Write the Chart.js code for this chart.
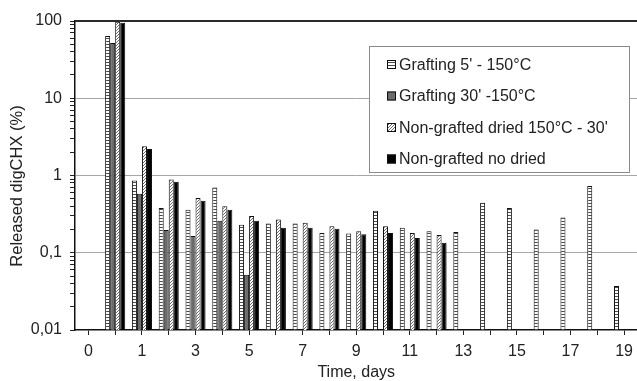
<!DOCTYPE html>
<html>
<head>
<meta charset="utf-8">
<script src="https://cdn.jsdelivr.net/npm/chart.js@4.4.0/dist/chart.umd.min.js"></script>
<style>
  html, body { margin: 0; padding: 0; background: #fff; overflow: hidden; }
  canvas { display: block; }
</style>
</head>
<body>
<canvas id="chart" width="640" height="381"></canvas>
<script>
/* ── data ─────────────────────────────────────── */

const X_LABELS = ['0', '0,5', '1', '2', '3', '4', '5', '6', '7', '8', '9', '10',
                  '11', '12', '13', '14', '15', '16', '17', '18', '19'];

const SERIES_NAMES = [
  "Grafting 5' - 150°C",
  "Grafting 30' -150°C",
  "Non-grafted dried 150°C - 30'",
  'Non-grafted no dried'
];

const GRAFT_5 = [null, 64, 0.86, 0.38, 0.36, 0.70, 0.23, 0.24, 0.24, 0.18, 0.177,
                 0.35, 0.21, 0.19, 0.185, 0.445, 0.38, 0.20, 0.285, 0.73, 0.037];
const GRAFT_30 = [null, 52, 0.58, 0.197, 0.165, 0.26, 0.052, null, null, null, null,
                  null, null, null, null, null, null, null, null, null, null];
const DRIED = [null, 98, 2.4, 0.89, 0.51, 0.40, 0.30, 0.27, 0.245, 0.22, 0.19,
               0.22, 0.18, 0.17, null, null, null, null, null, null, null];
const NO_DRIED = [null, 95, 2.2, 0.83, 0.47, 0.36, 0.26, 0.21, 0.21, 0.205, 0.173,
                  0.18, 0.155, 0.135, null, null, null, null, null, null, null];

const Y_TICKS = [0.01, 0.1, 1, 10, 100];
const Y_TICK_LABELS = ['0,01', '0,1', '1', '10', '100'];

const X_TITLE = 'Time, days';
const Y_TITLE = 'Released digCHX (%)';

/* ── helpers ──────────────────────────────────── */

const canvas = document.getElementById('chart');
const ctx = canvas.getContext('2d');
const FONT = 'Liberation Sans, Arial, sans-serif';
const TEXT = '#222';

function makePattern(w, h, draw) {
  const c = document.createElement('canvas');
  c.width = w; c.height = h;
  const g = c.getContext('2d');
  g.fillStyle = '#fff';
  g.fillRect(0, 0, w, h);
  draw(g);
  return ctx.createPattern(c, 'repeat');
}

// white bar with horizontal rungs
const ladder = makePattern(4, 3, g => {
  g.fillStyle = '#4a4a4a';
  g.fillRect(0, 2, 4, 1);
});
// white bar with "/" hatching
const hatch = makePattern(3, 3, g => {
  g.fillStyle = '#6a6a6a';
  g.fillRect(2, 0, 1, 1);
  g.fillRect(1, 1, 1, 1);
  g.fillRect(0, 2, 1, 1);
});

const FILLS = [ladder, '#6b6b6b', hatch, '#000'];

// minor log ticks 1..9 per decade
function logTicks() {
  const out = [];
  Y_TICKS.forEach((d, i) => {
    if (i === Y_TICKS.length - 1) { out.push({ value: d, major: true }); return; }
    for (let m = 1; m <= 9; m++) {
      out.push({ value: Number((m * d).toPrecision(3)), major: m === 1 });
    }
  });
  return out;
}

/* ── top frame, y title and legend box ────────── */

const extras = {
  id: 'extras',
  afterDraw(chart) {
    const c = chart.ctx;
    const a = chart.chartArea;

    // dark frame line along the top of the plot
    c.save();
    c.fillStyle = '#2a2a2a';
    c.fillRect(a.left, Math.round(a.top) - 1, a.right - a.left, 2);
    c.restore();

    // y axis title, centred a little below the plot middle as in the source
    c.save();
    c.translate(17, 186);
    c.rotate(-Math.PI / 2);
    c.font = '16.5px ' + FONT;
    c.fillStyle = TEXT;
    c.textAlign = 'center';
    c.textBaseline = 'middle';
    c.fillText(Y_TITLE, 0, 0);
    c.restore();

    // legend box
    const x0 = 369.5, y0 = 46.5, w = 260, h = 126;
    c.save();
    c.fillStyle = '#fff';
    c.fillRect(x0, y0, w, h);
    c.strokeStyle = '#8a8a8a';
    c.lineWidth = 1;
    c.strokeRect(x0, y0, w, h);
    c.font = '16px ' + FONT;
    c.textBaseline = 'middle';
    chart.data.datasets.forEach((ds, i) => {
      const cy = 64.5 + i * 31.5;
      c.fillStyle = ds.backgroundColor;
      c.fillRect(387, cy - 4.5, 9, 9);
      c.strokeStyle = '#111';
      c.strokeRect(387.5, cy - 4, 8, 8);
      c.fillStyle = TEXT;
      c.fillText(ds.label, 399, cy + 1);
    });
    c.restore();
  }
};

/* ── chart ────────────────────────────────────── */

const SERIES = [GRAFT_5, GRAFT_30, DRIED, NO_DRIED];

new Chart(ctx, {
  type: 'bar',
  data: {
    labels: X_LABELS,
    datasets: SERIES.map((vals, i) => ({
      label: SERIES_NAMES[i],
      data: vals,
      backgroundColor: FILLS[i],
      borderColor: '#111',
      borderWidth: 1,
      categoryPercentage: 0.75,
      barPercentage: 1
    }))
  },
  options: {
    responsive: false,
    animation: false,
    layout: { padding: { top: 21, right: 2, left: 0, bottom: 0 } },
    plugins: {
      legend: { display: false },
      tooltip: { enabled: false }
    },
    scales: {
      x: {
        grid: {
          drawOnChartArea: false,
          offset: false,
          tickLength: 5,
          tickColor: '#222'
        },
        border: { color: '#111', width: 1.5 },
        ticks: {
          autoSkip: false,
          maxRotation: 0,
          padding: 7,
          color: TEXT,
          font: { family: FONT, size: 16 },
          callback: (v, i) => (i % 2 === 0 ? X_LABELS[i] : '')
        },
        title: {
          display: true, text: X_TITLE, color: TEXT,
          font: { family: FONT, size: 16 },
          padding: { top: 0, bottom: -1 }
        },
        afterFit: s => { s.height = 51; }
      },
      y: {
        type: 'logarithmic',
        min: 0.01,
        max: 100,
        afterBuildTicks: s => { s.ticks = logTicks(); },
        grid: {
          tickLength: 5,
          color: c => {
            const v = c.tick && c.tick.value;
            if (v === 0.01 || v === 100) return 'rgba(0,0,0,0)';
            return Y_TICKS.includes(v) ? '#a6a6a6' : 'rgba(0,0,0,0)';
          },
          tickColor: '#222'
        },
        border: { color: '#111', width: 1.5 },
        ticks: {
          autoSkip: false,
          padding: 8,
          color: TEXT,
          font: { family: FONT, size: 16 },
          callback: v => {
            const k = Y_TICKS.indexOf(v);
            return k >= 0 ? Y_TICK_LABELS[k] : '';
          }
        },
        title: { display: false },
        afterFit: s => { s.width = 75; }
      }
    }
  },
  plugins: [extras]
});
</script>
</body>
</html>
